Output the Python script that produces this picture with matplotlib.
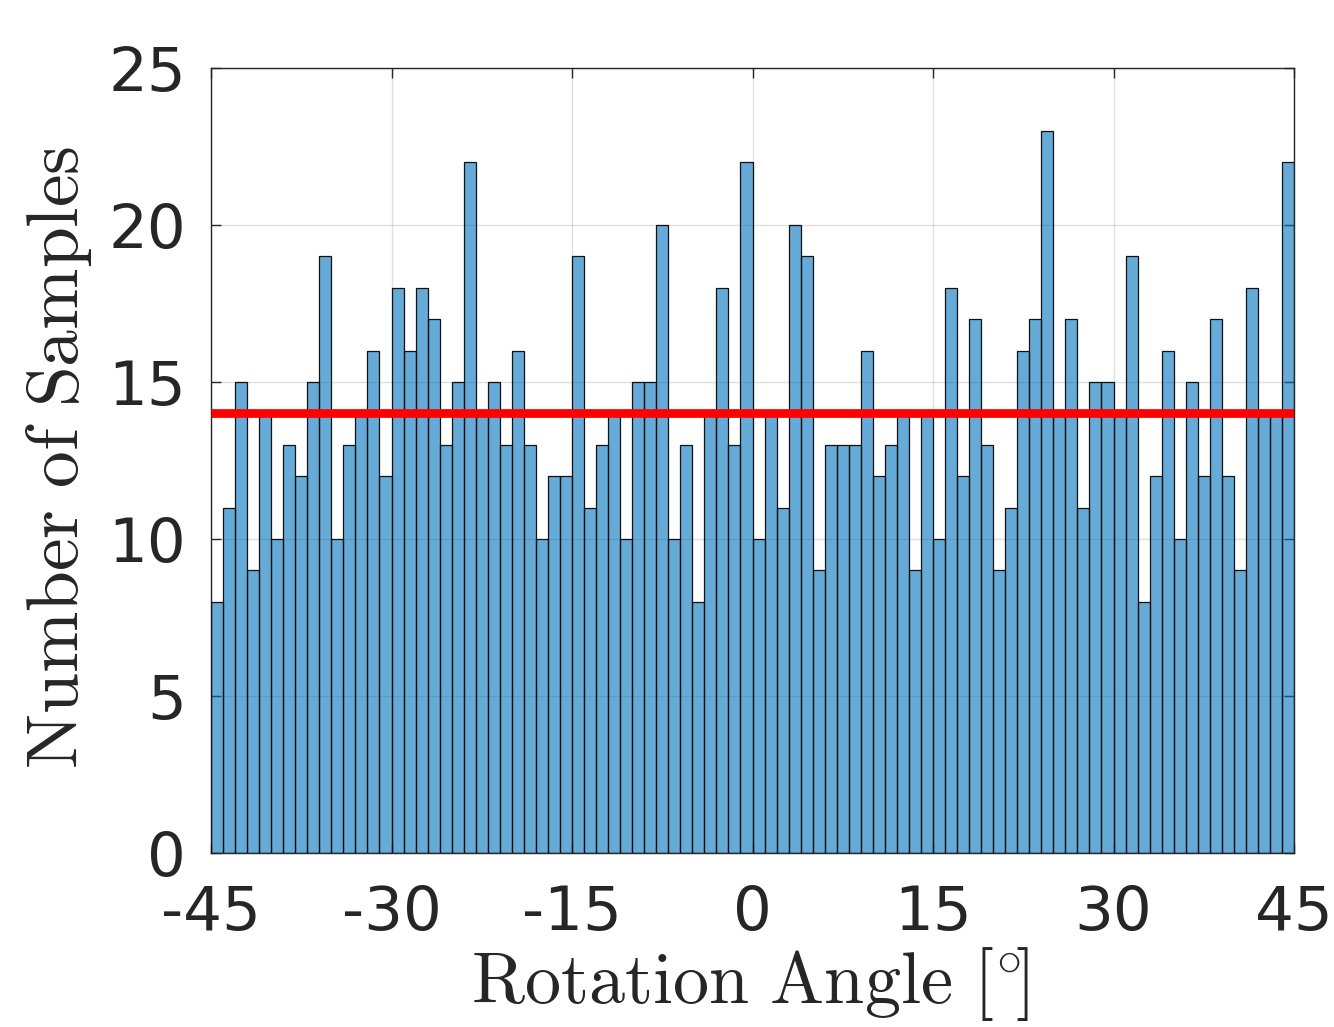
import numpy as np
import matplotlib
matplotlib.use("Agg")
import matplotlib.pyplot as plt

# Data: counts per 1-degree bin from -45 to 45
bin_edges = np.arange(-45, 46, 1)
counts = [8, 11, 15, 9, 14, 10, 13, 12, 15, 19,
          10, 13, 14, 16, 12, 18, 16, 18, 17, 13,
          15, 22, 14, 15, 13, 16, 13, 10, 12, 12,
          19, 11, 13, 14, 10, 15, 15, 20, 10, 13,
          8, 14, 18, 13, 22, 10, 14, 11, 20, 19,
          9, 13, 13, 13, 16, 12, 13, 14, 9, 14,
          10, 18, 12, 17, 13, 9, 11, 16, 17, 23,
          14, 17, 11, 15, 15, 14, 19, 8, 12, 16,
          10, 15, 12, 17, 12, 9, 18, 14, 14, 22]
xticks = [-45, -30, -15, 0, 15, 30, 45]
yticks = [0, 5, 10, 15, 20, 25]

plt.rcParams['axes.unicode_minus'] = False
plt.rcParams['mathtext.fontset'] = 'cm'
plt.rcParams['font.family'] = ['DejaVu Sans']

fig = plt.figure(figsize=(13.34, 10.27), dpi=100)
ax = fig.add_axes([211/1334, 1 - 853/1027, (1294-211)/1334, (853-68)/1027])

ax.set_axisbelow(True)
ax.grid(True, color='#262626', alpha=0.15, linewidth=1.0)

ax.bar(bin_edges[:-1], counts, width=1, align='edge',
       color=(0, 0.447, 0.741), alpha=0.6, edgecolor='none', zorder=2)
ax.bar(bin_edges[:-1], counts, width=1, align='edge',
       facecolor='none', edgecolor='#111111', linewidth=0.9, zorder=3)

mean_val = np.mean(counts)
ax.plot([bin_edges[0], bin_edges[-1]], [mean_val, mean_val],
        color='#ff0000', linewidth=6.3, solid_capstyle='butt', zorder=4)

ax.set_xlim(-45, 45)
ax.set_ylim(0, 25)
ax.set_xticks(xticks)
ax.set_yticks(yticks)
ax.set_xticklabels([str(v) for v in xticks])
ax.set_yticklabels([str(v) for v in yticks])

for s in ax.spines.values():
    s.set_color('#262626')
    s.set_linewidth(1.0)

ax.tick_params(axis='both', direction='in', length=7, width=1.0,
               color='#262626', labelcolor='#262626', labelsize=44,
               top=True, right=True)
ax.tick_params(axis='x', pad=22)
ax.tick_params(axis='y', pad=18)

ax.set_xlabel(r'$\mathrm{Rotation\ Angle\ }[^{\circ}\!]$', fontsize=52, color='#262626')
ax.set_ylabel(r'$\mathrm{Number\ of\ Samples}$', fontsize=53, color='#262626')
ax.xaxis.set_label_coords(0.4975, -0.117)
ax.yaxis.set_label_coords(-0.108, 0.504)

fig.savefig('out.png', dpi=100)
